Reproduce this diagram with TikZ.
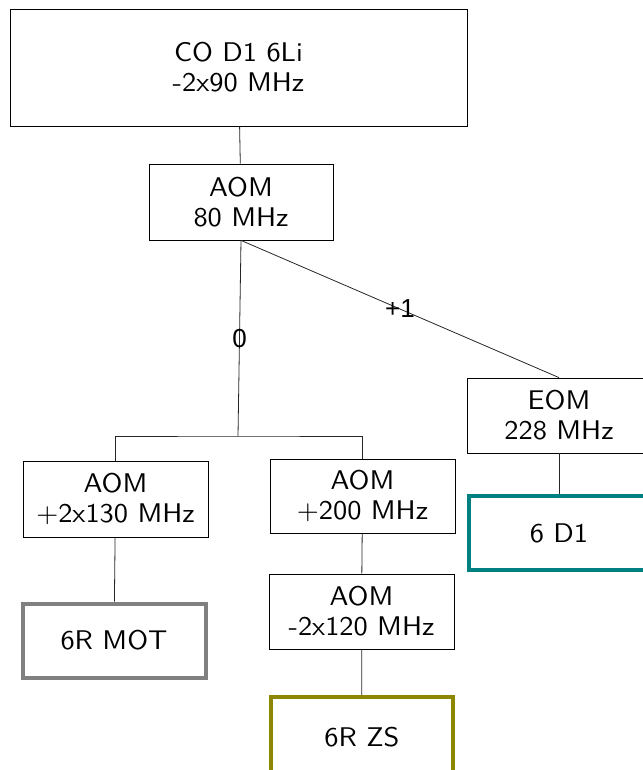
\documentclass[tikz,border=0pt]{standalone}
\usepackage{fontspec}
\newfontfamily\boxfont{lmsans10-regular.otf}[FakeStretch=1.05]
\newfontfamily\orderfont{Liberation Sans}
\usepackage{tikz}
\usetikzlibrary{positioning}

\begin{document}
\begin{tikzpicture}[x=1pt, y=-1pt,
    box/.style={draw=black, line width=0.8pt, align=center, inner sep=0pt,
        font=\boxfont\fontsize{27}{30}\selectfont},
    target/.style={box, line width=4pt},
    link/.style={draw=black!85, line width=0.8pt},
    order/.style={font=\orderfont\fontsize{26}{30}\selectfont, inner sep=0pt}]

    \useasboundingbox (0,0) rectangle (642,770);

    % === Source and first AOM ===
    \node[box, minimum width=457pt, minimum height=117pt] (co) at (238.5,67.5) {CO D1 6Li\\-2x90 MHz};
    \node[box, minimum width=184pt, minimum height=76pt] (aom80) at (241,202) {AOM\\80 MHz};

    % === Order 0 branch ===
    \node[box, minimum width=185pt, minimum height=76pt] (aom130) at (115.5,499) {AOM\\+2x130 MHz};
    \node[target, draw=gray, minimum width=183pt, minimum height=74pt] (mot) at (114,640.5) {6R MOT};

    \node[box, minimum width=185pt, minimum height=74pt] (aom200) at (362.5,496) {AOM\\+200 MHz};
    \node[box, minimum width=185pt, minimum height=75pt] (aom120) at (361.5,611.5) {AOM\\-2x120 MHz};
    \node[target, draw=olive, minimum width=182pt, minimum height=80pt] (zs) at (362,737) {6R ZS};

    % === Order +1 branch ===
    \node[box, minimum width=184pt, minimum height=75pt] (eom) at (559,415.5) {EOM\\228 MHz};
    \node[target, draw=teal, minimum width=181pt, minimum height=74pt] (d1) at (559,533) {6 D1};

    \coordinate (split) at (238,436);

    % === Connectors ===
    \draw[link] (co) -- (aom80);
    \draw[link] (aom80.south) -- node[order] {0} (split);
    \draw[link] (aom130.north) |- (split) -| (aom200.north);
    \draw[link] (aom80.south) -- node[order] {+1} (eom.north);
    \draw[link] (aom130) -- (mot);
    \draw[link] (aom200) -- (aom120);
    \draw[link] (aom120) -- (zs);
    \draw[link] (eom) -- (d1);

\end{tikzpicture}
\end{document}
